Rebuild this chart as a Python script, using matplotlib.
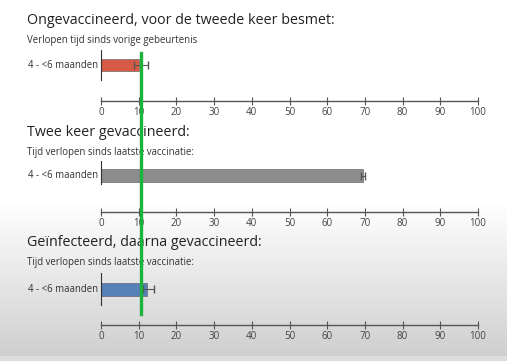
import numpy as np
import matplotlib
matplotlib.use('Agg')
import matplotlib.pyplot as plt
import matplotlib.transforms as mtransforms

plt.rcParams['font.family'] = ['Open Sans', 'DejaVu Sans']

# data
titles = ['Ongevaccineerd, voor de tweede keer besmet:',
          'Twee keer gevaccineerd:',
          'Geïnfecteerd, daarna gevaccineerd:']
subtitles = ['Verlopen tijd sinds vorige gebeurtenis',
             'Tijd verlopen sinds laatste vaccinatie:',
             'Tijd verlopen sinds laatste vaccinatie:']
category = '4 - <6 maanden'
values = [10.0, 69.5, 12.3]
err_low = [8.8, 69.0, 11.2]
err_high = [12.4, 70.0, 14.0]
bar_colors = ['#d65a45', '#8c8c8e', '#5680b8']
ref_line = 10.6
ticks = list(range(0, 101, 10))

W, H = 507, 361
fig = plt.figure(figsize=(W / 100, H / 100), dpi=100)

# background gradient
bg = fig.add_axes([0, 0, 1, 1], zorder=-10)
rows = np.arange(H)
shade = np.where(rows < 200, 1.0, 1.0 - (rows - 200) / (355 - 200) * 0.19)
shade = np.where(rows > 355, 0.86, shade)
bg.imshow(np.tile(shade[:, None], (1, 2)), cmap='gray', vmin=0, vmax=1,
          aspect='auto', extent=[0, 1, 0, 1])
bg.axis('off')

def fy(px):
    return 1 - px / H

# panel layout in pixels: (title y, subtitle y, spine top, spine bottom, bar top, bar bottom, axis y)
layout = [(20, 41, 50, 80, 59, 71, 101),
          (133, 152, 161, 184, 169, 182, 212),
          (243, 262, 273, 305, 283, 296, 325)]

x0, x1 = 101, 478
axes = []
for i, (ty, sy, st, sb, bt, bb, ay) in enumerate(layout):
    ax = fig.add_axes([x0 / W, fy(ay), (x1 - x0) / W, (ay - st) / H])
    ax.patch.set_alpha(0)
    ax.set_xlim(0, 100)
    ax.set_ylim(ay, st)
    yc = (bt + bb) / 2
    ax.barh([yc], [values[i]], height=bb - bt, color=bar_colors[i],
            edgecolor='#555555', linewidth=0.4, zorder=2)
    ax.errorbar([values[i]], [yc],
                xerr=[[values[i] - err_low[i]], [err_high[i] - values[i]]],
                fmt='none', ecolor='#555555', elinewidth=0.8, capsize=3, zorder=3)
    for s in ['top', 'right']:
        ax.spines[s].set_visible(False)
    ax.spines['left'].set_bounds(sb, st)
    ax.spines['left'].set_color('#333333')
    ax.spines['bottom'].set_color('#555555')
    ax.spines['bottom'].set_linewidth(1.0)
    ax.set_yticks([])
    ax.set_xticks(ticks)
    ax.tick_params(axis='x', direction='inout', length=6, width=0.8,
                   color='#555555', labelsize=7, labelcolor='#444444', pad=1)
    fig.text(27 / W, fy(ty), titles[i], fontsize=10.3, color='#222222',
             va='center', ha='left')
    fig.text(27 / W, fy(sy), subtitles[i], fontsize=6.9, color='#333333',
             va='center', ha='left')
    fig.text(98 / W, fy(yc), category, fontsize=6.9, color='#333333',
             va='center', ha='right')
    axes.append(ax)

trans = mtransforms.blended_transform_factory(axes[0].transData, fig.transFigure)
fig.add_artist(plt.Line2D([ref_line, ref_line], [fy(53), fy(314)],
                          transform=trans, color='#1db33a', linewidth=2.4, zorder=20))

fig.savefig('out.png', dpi=100)
